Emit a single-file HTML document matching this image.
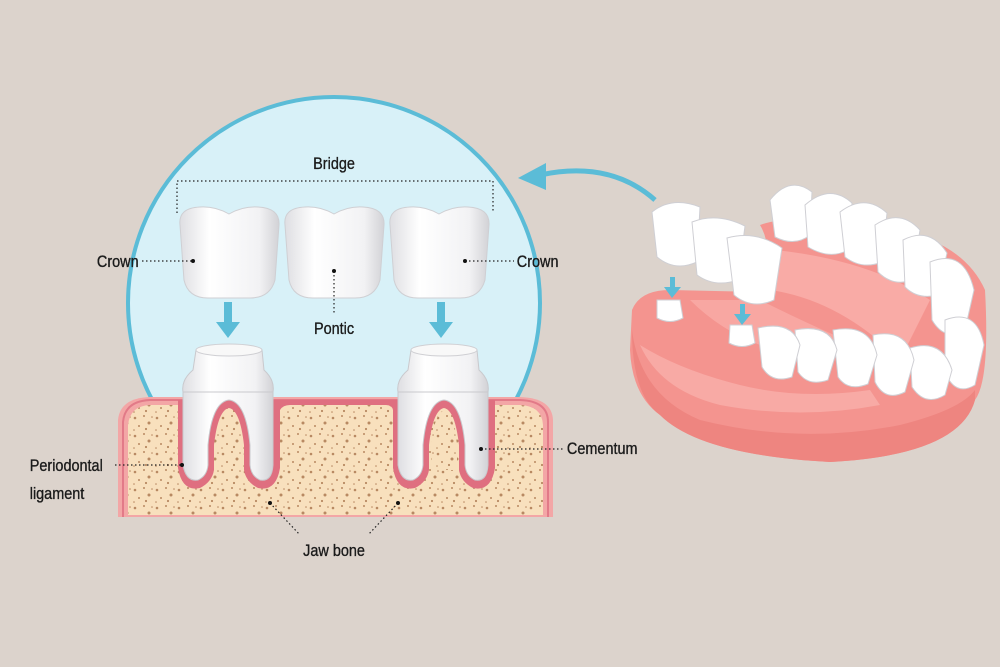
<!DOCTYPE html>
<html><head><meta charset="utf-8"><style>
html,body{margin:0;padding:0;background:#dcd3cc;}
svg{display:block}
text{font-family:"Liberation Sans",sans-serif;font-size:17px;fill:#1a1a1a;stroke:#1a1a1a;stroke-width:0.35;}
</style></head><body>
<svg width="1000" height="667" viewBox="0 0 1000 667" xmlns="http://www.w3.org/2000/svg">
<defs>
<linearGradient id="tooth" x1="0" x2="1"><stop offset="0" stop-color="#dedee2"/><stop offset="0.3" stop-color="#ffffff"/><stop offset="0.8" stop-color="#f2f2f4"/><stop offset="1" stop-color="#d2d2d6"/></linearGradient>
<pattern id="dots" width="22" height="18" patternUnits="userSpaceOnUse">
<rect width="22" height="18" fill="#f8e0bd"/>
<circle cx="3" cy="4" r="1.3" fill="#b88962"/><circle cx="12" cy="2" r="1" fill="#b88962"/><circle cx="17" cy="9" r="1.5" fill="#b88962"/><circle cx="7" cy="12" r="1" fill="#b88962"/><circle cx="14" cy="15" r="1.1" fill="#b88962"/><circle cx="2" cy="16" r="0.8" fill="#b88962"/><circle cx="20" cy="3" r="0.8" fill="#b88962"/>
</pattern>
<clipPath id="top"><rect x="0" y="0" width="1000" height="400"/></clipPath>
</defs>
<!-- circle -->
<circle cx="334" cy="303" r="206" fill="#d8f1f8" stroke="#5bbcd7" stroke-width="4" clip-path="url(#top)"/>
<!-- jaw -->
<path d="M118 517 L118 420 Q120 398 150 397 L520 397 Q552 398 553 420 L553 517 Z" fill="#f3a6a6"/>
<path d="M128 515 L128 425 Q130 406 150 405 L520 405 Q542 406 543 425 L543 515 Z" fill="url(#dots)"/>
<path d="M123 517 L123 422 Q125 401 150 400 L520 400 Q548 401 548 422 L548 517" fill="none" stroke="#e27a88" stroke-width="2"/>
<!-- abutments -->
<g id="ab">
<path d="M178 400 L178 468 Q182 492 200 488 Q212 482 214 470 L214 445 Q218 410 229 408 Q240 410 244 445 L244 470 Q246 482 258 488 Q276 492 280 468 L280 400 Z" fill="#df6f80"/>
<path d="M183 390 L183 465 Q186 482 198 480 Q207 476 208 465 L208 445 Q212 402 229 400 Q246 402 250 445 L250 465 Q251 476 260 480 Q272 482 273 465 L273 390 Z" fill="url(#tooth)" stroke="#c9c9cd"/>
<path d="M216 470 L216 445 Q220 412 229 411 Q238 412 242 445 L242 470 Z" fill="url(#dots)"/>
<path d="M196 350 L262 350 L264 370 Q275 380 273 392 L183 392 Q181 380 193 370 Z" fill="url(#tooth)" stroke="#c9c9cd"/>
<ellipse cx="229" cy="350" rx="33" ry="6" fill="#f8f8f8" stroke="#cfcfd3"/>
</g>
<use href="#ab" transform="translate(215,0)"/>
<path d="M280 400 L280 410 Q283 405 290 405 L386 405 Q392 405 393 410 L393 400 Z" fill="#df6f80"/>
<!-- crowns -->
<g id="cr">
<path d="M180 225 Q178 208 200 207 Q215 206 229 214 Q243 206 258 207 Q280 208 279 225 L275 280 Q270 298 250 298 L208 298 Q188 298 184 280 Z" fill="url(#tooth)" stroke="#cfcfd3"/>
</g>
<use href="#cr" transform="translate(105,0)"/>
<use href="#cr" transform="translate(210,0)"/>
<!-- arrows -->
<g fill="#5bbcd7">
<rect x="224" y="302" width="8" height="22"/><path d="M216 322 L240 322 L228 338 Z"/>
<rect x="437" y="302" width="8" height="22"/><path d="M429 322 L453 322 L441 338 Z"/>
</g>
<!-- dotted guides -->
<g fill="none" stroke="#222" stroke-width="1.2" stroke-dasharray="1.5 2.5">
<path d="M177 213 L177 181 L493 181 L493 213"/>
<path d="M142 261 L193 261"/><path d="M465 261 L514 261"/>
<path d="M334 271 L334 313"/>
<path d="M115 465 L182 465"/><path d="M481 449 L564 449"/>
<path d="M270 503 L300 535"/><path d="M398 503 L368 535"/>
</g>
<g fill="#111"><circle cx="193" cy="261" r="2"/><circle cx="465" cy="261" r="2"/><circle cx="334" cy="271" r="2"/><circle cx="182" cy="465" r="2"/><circle cx="481" cy="449" r="2"/><circle cx="270" cy="503" r="2"/><circle cx="398" cy="503" r="2"/></g>
<!-- labels -->
<g transform="scale(0.85,1)">
<text x="393" y="169" text-anchor="middle">Bridge</text>
<text x="114" y="267">Crown</text>
<text x="608" y="267">Crown</text>
<text x="393" y="334" text-anchor="middle">Pontic</text>
<text x="35" y="471">Periodontal</text>
<text x="35" y="499">ligament</text>
<text x="667" y="454">Cementum</text>
<text x="393" y="556" text-anchor="middle">Jaw bone</text>
</g>
<!-- curved arrow -->
<path d="M655 200 Q610 160 540 175" fill="none" stroke="#5bbcd7" stroke-width="5"/>
<path d="M518 178 L546 163 L546 190 Z" fill="#5bbcd7"/>
<!-- denture -->
<path d="M632 310 Q640 290 670 290 L760 292 Q775 250 760 225 Q800 210 900 230 Q965 245 985 290 Q990 380 975 400 Q960 455 830 462 Q700 455 660 415 Q632 395 630 350 Z" fill="#f4948f"/>
<path d="M632 330 Q640 395 700 420 Q800 445 900 425 Q960 410 975 390 L975 400 Q960 455 830 462 Q700 455 660 415 Q632 395 632 330Z" fill="#ee8580"/>
<path d="M640 345 Q660 390 720 405 Q800 420 880 405 L870 390 Q800 400 740 385 Q680 370 640 345Z" fill="#f8aaa5"/>
<path d="M690 300 L760 300 Q820 330 870 350 L760 345 Q720 330 690 300Z" fill="#f8a7a2"/>
<path d="M775 250 Q870 260 930 300 L900 360 Q840 300 770 290 Z" fill="#f9aba6"/>
<g fill="#fff" stroke="#cfcfd4">
<path d="M770 200 Q790 175 812 192 L810 235 Q795 247 775 237 Z"/>
<path d="M805 205 Q830 183 852 203 L848 250 Q830 260 808 247 Z"/>
<path d="M840 212 Q865 193 887 213 L882 262 Q862 270 845 257 Z"/>
<path d="M875 225 Q900 208 920 230 L912 280 Q893 287 878 272 Z"/>
<path d="M903 240 Q930 226 947 253 L938 295 Q918 300 905 287 Z"/>
<path d="M930 262 Q964 248 974 290 L965 330 Q945 342 932 320 Z"/>
<path d="M945 320 Q977 308 984 345 L975 385 Q955 397 945 372 Z"/>
<path d="M910 348 Q942 338 952 370 L945 395 Q925 407 912 387 Z"/>
<path d="M873 335 Q907 328 914 360 L905 392 Q885 402 875 382 Z"/>
<path d="M833 330 Q870 323 877 355 L868 384 Q848 392 838 377 Z"/>
<path d="M795 330 Q830 323 837 350 L828 380 Q808 387 798 372 Z"/>
<path d="M758 328 Q792 320 800 345 L792 377 Q772 384 762 367 Z"/>
<path d="M652 212 Q672 196 700 207 L697 262 Q675 272 657 257 Z"/>
<path d="M692 222 Q717 212 745 226 L738 280 Q715 288 697 275 Z"/>
<path d="M727 238 Q756 230 782 248 L774 300 Q752 310 734 295 Z"/>
<path d="M657 300 L680 300 L683 318 Q670 325 657 318 Z"/>
<path d="M730 325 L752 325 L755 343 Q742 350 729 343 Z"/>
</g>
<g fill="#5bbcd7">
<rect x="670" y="277" width="5" height="12"/><path d="M664 287 L681 287 L672 298 Z"/>
<rect x="740" y="304" width="5" height="12"/><path d="M734 314 L751 314 L742 325 Z"/>
</g>
</svg>
</body></html>
